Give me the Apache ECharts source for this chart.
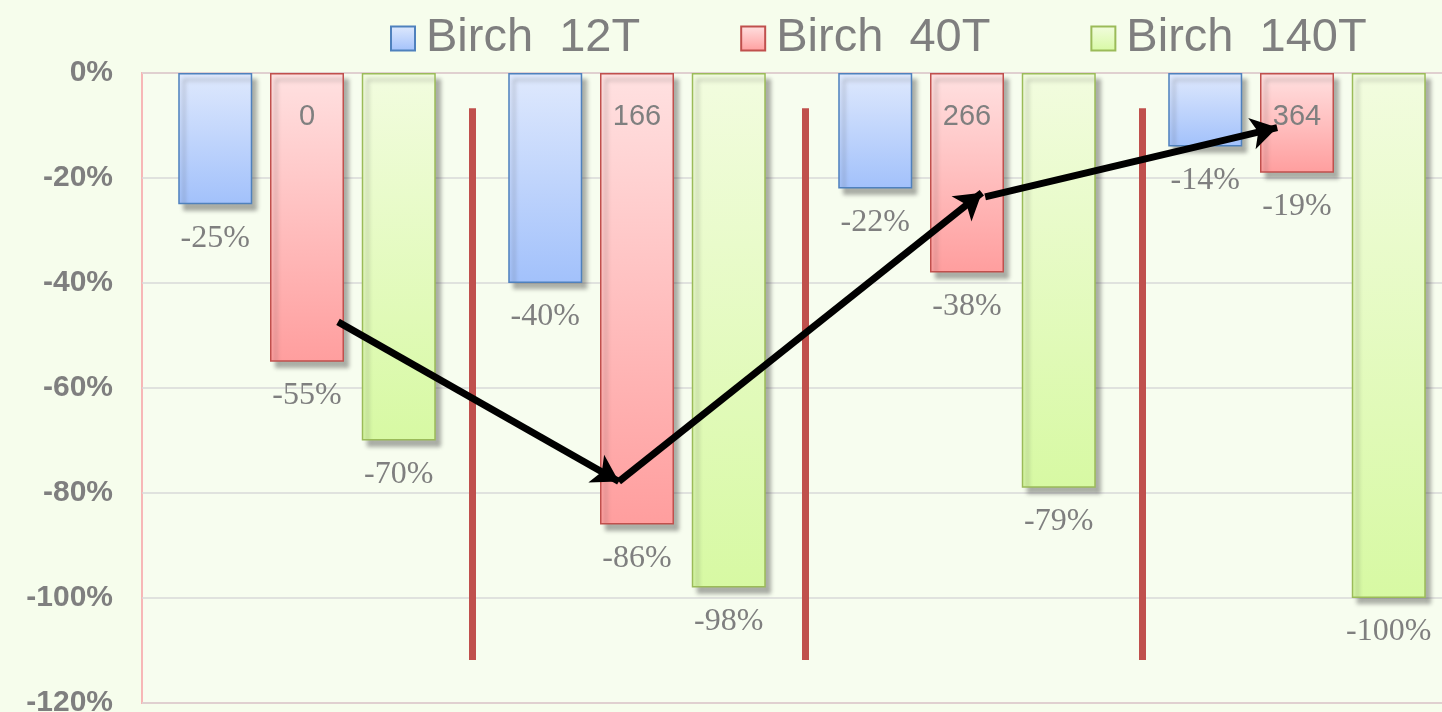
<!DOCTYPE html>
<html>
<head>
<meta charset="utf-8">
<script src="https://cdn.jsdelivr.net/npm/echarts@6/dist/echarts.min.js"></script>
<style>
  html, body { margin: 0; padding: 0; background: #f6fdec; overflow: hidden; }
  #main { width: 1442px; height: 712px; }
</style>
</head>
<body>
<div id="main"></div>
<script>
var categories = ['0', '166', '266', '364'];
var seriesNames = ['Birch  12T', 'Birch  40T', 'Birch  140T'];
var birch12 = [-25, -40, -22, -14];
var birch40 = [-55, -86, -38, -19];
var birch140 = [-70, -98, -79, -100];

// separators between groups: x position (in category units), top, bottom
var separatorX = [1.0, 2.01, 3.03];
var separatorTop = -6.7;
var separatorBottom = -111.8;

// arrows: [x1, y1, x2, y2] in category units / percent
var arrows = [
  [0.594, -47.4, 1.445, -77.8],
  [1.445, -77.8, 2.545, -22.8],
  [2.555, -23.6, 3.44, -10.4]
];

var myChart = echarts.init(document.getElementById('main'));

function grad(top, bottom) {
  return new echarts.graphic.LinearGradient(0, 0, 0, 1, [
    {offset: 0, color: top},
    {offset: 1, color: bottom}
  ]);
}

var barStyles = [
  {color: grad('#dfe9fd', '#a2c1fb'), borderColor: '#4f81bd'},
  {color: grad('#ffe1e1', '#ff9e9e'), borderColor: '#c0504d'},
  {color: grad('#f2fcdf', '#d7f9a3'), borderColor: '#9bbb59'}
];

var valueLabel = {
  show: true,
  position: 'bottom',
  distance: 18,
  fontFamily: 'Liberation Serif',
  fontSize: 32,
  color: '#7f7f7f',
  formatter: function (p) { return p.value + '%'; }
};

function barSeries(i, data) {
  return {
    name: seriesNames[i],
    type: 'bar',
    data: data,
    barWidth: 74,
    barGap: '24%',
    itemStyle: {
      color: barStyles[i].color,
      borderColor: barStyles[i].borderColor,
      borderWidth: 1.5,
      shadowColor: 'rgba(60,60,60,0.4)',
      shadowBlur: 4,
      shadowOffsetX: 5,
      shadowOffsetY: 6
    },
    label: valueLabel,
    z: 2
  };
}

var sepLines = separatorX.map(function (x) {
  return [{coord: [x, separatorTop]}, {coord: [x, separatorBottom]}];
});
var arrowLines = arrows.map(function (a) {
  return [{coord: [a[0], a[1]]}, {coord: [a[2], a[3]]}];
});

option = {
  backgroundColor: '#f6fdec',
  animation: false,
  legend: {
    left: 385,
    top: 10,
    icon: 'rect',
    itemWidth: 24,
    itemHeight: 24,
    itemGap: 100,
    data: seriesNames,
    textStyle: {
      fontFamily: 'Liberation Sans',
      fontSize: 47,
      color: '#7f7f7f',
      padding: [0, 0, 0, 6]
    }
  },
  grid: {
    left: 142,
    right: -20,
    top: 73,
    bottom: 9,
    outerBoundsMode: 'none',
    containLabel: false,
    show: true,
    borderColor: '#f7b7b7',
    borderWidth: 2,
    backgroundColor: '#f7fdef'
  },
  xAxis: [{
    type: 'category',
    data: categories,
    position: 'top',
    axisLine: {show: false},
    axisTick: {show: false},
    axisLabel: {
      inside: true,
      margin: 29,
      verticalAlign: 'top',
      fontFamily: 'Liberation Sans',
      fontSize: 29,
      color: '#7f7f7f'
    },
    z: 5
  }, {
    type: 'value',
    min: 0,
    max: 4,
    show: false
  }],
  yAxis: {
    type: 'value',
    min: -120,
    max: 0,
    interval: 20,
    axisLine: {show: false},
    axisTick: {show: false},
    splitLine: {lineStyle: {color: '#d9d9d9', width: 1.5}},
    axisLabel: {
      margin: 29,
      fontFamily: 'Liberation Sans',
      fontWeight: 'bold',
      fontSize: 30,
      color: '#7f7f7f',
      formatter: '{value}%'
    }
  },
  series: [
    barSeries(0, birch12),
    barSeries(1, birch40),
    barSeries(2, birch140),
    {
      type: 'line',
      xAxisIndex: 1,
      data: [],
      silent: true,
      markLine: {
        silent: true,
        symbol: ['none', 'none'],
        label: {show: false},
        lineStyle: {color: '#c0504d', width: 7, type: 'solid'},
        data: sepLines
      },
      z: 1
    },
    {
      type: 'line',
      xAxisIndex: 1,
      data: [],
      silent: true,
      markLine: {
        silent: true,
        symbol: ['none', 'arrow'],
        symbolSize: [24, 26],
        label: {show: false},
        lineStyle: {color: '#000000', width: 7, type: 'solid'},
        data: arrowLines
      },
      z: 10
    }
  ]
};

myChart.setOption(option);
</script>
</body>
</html>
